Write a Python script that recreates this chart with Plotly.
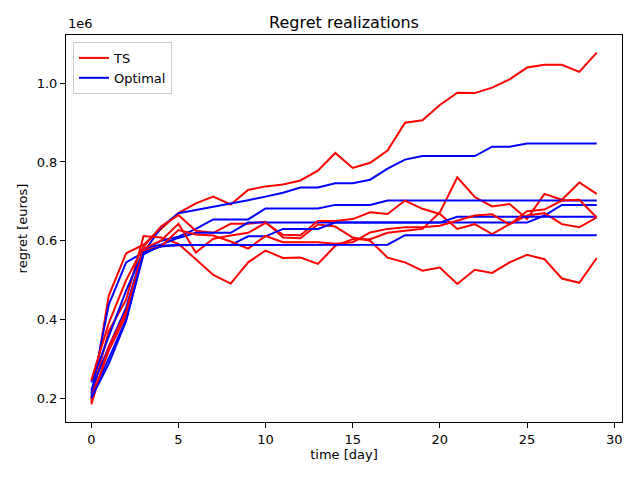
import plotly.graph_objects as go

days = list(range(30))

# values in units of 1e6 euros (as read on the axis)
ts_1 = [0.190, 0.460, 0.568, 0.590, 0.630, 0.670, 0.695, 0.712, 0.692, 0.729,
        0.738, 0.743, 0.753, 0.778, 0.823, 0.785, 0.798, 0.829, 0.900, 0.906,
        0.945, 0.976, 0.975, 0.989, 1.010, 1.040, 1.047, 1.047, 1.029, 1.078]
ts_2 = [0.200, 0.370, 0.450, 0.612, 0.608, 0.592, 0.553, 0.513, 0.491, 0.545,
        0.575, 0.556, 0.557, 0.541, 0.587, 0.604, 0.604, 0.620, 0.625, 0.630,
        0.672, 0.761, 0.711, 0.687, 0.693, 0.655, 0.719, 0.704, 0.748, 0.719]
ts_3 = [0.245, 0.390, 0.500, 0.585, 0.636, 0.665, 0.625, 0.620, 0.643, 0.643,
        0.648, 0.608, 0.606, 0.641, 0.636, 0.608, 0.600, 0.557, 0.545, 0.524,
        0.532, 0.490, 0.526, 0.518, 0.545, 0.564, 0.553, 0.504, 0.493, 0.556]
ts_4 = [0.184, 0.330, 0.420, 0.580, 0.600, 0.643, 0.570, 0.605, 0.613, 0.620,
        0.645, 0.615, 0.614, 0.650, 0.650, 0.655, 0.672, 0.668, 0.702, 0.681,
        0.668, 0.630, 0.642, 0.617, 0.642, 0.664, 0.670, 0.642, 0.634, 0.659]
ts_5 = [0.197, 0.320, 0.410, 0.575, 0.585, 0.627, 0.616, 0.613, 0.598, 0.580,
        0.612, 0.596, 0.596, 0.596, 0.592, 0.596, 0.621, 0.630, 0.634, 0.634,
        0.638, 0.651, 0.664, 0.667, 0.641, 0.675, 0.679, 0.702, 0.704, 0.659]

opt_1 = [0.210, 0.437, 0.545, 0.570, 0.634, 0.670, 0.678, 0.686, 0.694, 0.703,
         0.712, 0.722, 0.735, 0.735, 0.746, 0.746, 0.755, 0.783, 0.806, 0.815,
         0.815, 0.815, 0.815, 0.839, 0.839, 0.847, 0.847, 0.847, 0.847, 0.847]
opt_2 = [0.240, 0.354, 0.473, 0.575, 0.600, 0.610, 0.630, 0.654, 0.654, 0.654,
         0.682, 0.682, 0.682, 0.682, 0.691, 0.691, 0.691, 0.702, 0.702, 0.702,
         0.702, 0.702, 0.702, 0.702, 0.702, 0.702, 0.702, 0.702, 0.702, 0.702]
opt_3 = [0.220, 0.330, 0.430, 0.580, 0.590, 0.607, 0.620, 0.620, 0.620, 0.646,
         0.646, 0.646, 0.646, 0.646, 0.646, 0.646, 0.646, 0.646, 0.646, 0.646,
         0.646, 0.646, 0.646, 0.646, 0.646, 0.646, 0.664, 0.691, 0.691, 0.691]
opt_4 = [0.205, 0.300, 0.400, 0.565, 0.588, 0.589, 0.589, 0.589, 0.589, 0.611,
         0.611, 0.630, 0.630, 0.630, 0.646, 0.646, 0.646, 0.646, 0.646, 0.646,
         0.646, 0.661, 0.661, 0.661, 0.661, 0.661, 0.661, 0.661, 0.661, 0.661]
opt_5 = [0.200, 0.287, 0.396, 0.570, 0.585, 0.589, 0.589, 0.589, 0.589, 0.589,
         0.589, 0.589, 0.589, 0.589, 0.590, 0.590, 0.590, 0.590, 0.614, 0.614,
         0.614, 0.614, 0.614, 0.614, 0.614, 0.614, 0.614, 0.614, 0.614, 0.614]

ts_runs = [ts_1, ts_2, ts_3, ts_4, ts_5]
opt_runs = [opt_1, opt_2, opt_3, opt_4, opt_5]

x_ticks = [0, 5, 10, 15, 20, 25, 30]
y_ticks = [0.2, 0.4, 0.6, 0.8, 1.0]
y_tick_text = ["0.2", "0.4", "0.6", "0.8", "1.0"]

FONT = "DejaVu Sans"
fig = go.Figure()
for i, (ts, opt) in enumerate(zip(ts_runs, opt_runs)):
    fig.add_trace(go.Scatter(x=days, y=ts, mode="lines", name="TS",
                             line=dict(color="#ff0000", width=2),
                             legendgroup="ts", showlegend=(i == 0)))
    fig.add_trace(go.Scatter(x=days, y=opt, mode="lines", name="Optimal",
                             line=dict(color="#0000ff", width=2),
                             legendgroup="opt", showlegend=(i == 0)))

# page body has an 8px default margin, compensate in the figure margins
fig.update_layout(
    width=640, height=480,
    margin=dict(l=58, r=26, t=27, b=66, autoexpand=False),
    paper_bgcolor="white", plot_bgcolor="white",
    font=dict(family=FONT, size=13, color="black"),
    title=dict(text="Regret realizations", x=0.5, xref="paper",
               y=1 - 14 / 480, yanchor="middle", font=dict(size=16)),
    showlegend=True,
    legend=dict(x=0.0126, y=0.982, xanchor="left", yanchor="top",
                bgcolor="rgba(255,255,255,0.8)", bordercolor="#cccccc",
                borderwidth=1, font=dict(size=13), tracegroupgap=0,
                itemwidth=30),
)
fig.update_xaxes(range=[-1.45, 30.45], tickvals=x_ticks, ticks="outside",
                 ticklen=5, tickcolor="black", showline=True, linecolor="black",
                 linewidth=1, mirror=True, showgrid=False, zeroline=False,
                 automargin=False,
                 title=dict(text="time [day]", standoff=4, font=dict(size=13)))
fig.update_yaxes(range=[0.1393, 1.1227], tickvals=y_ticks, ticktext=y_tick_text,
                 ticks="outside", ticklen=5, tickcolor="black", showline=True,
                 linecolor="black", linewidth=1, mirror=True, showgrid=False,
                 zeroline=False, automargin=False,
                 title=dict(text="regret [euros]", standoff=6, font=dict(size=13)))
fig.add_annotation(text="1e6", xref="paper", yref="paper", x=0, y=1,
                   xanchor="left", yanchor="bottom", showarrow=False,
                   font=dict(size=13), yshift=2)

fig.write_html("out.html")
